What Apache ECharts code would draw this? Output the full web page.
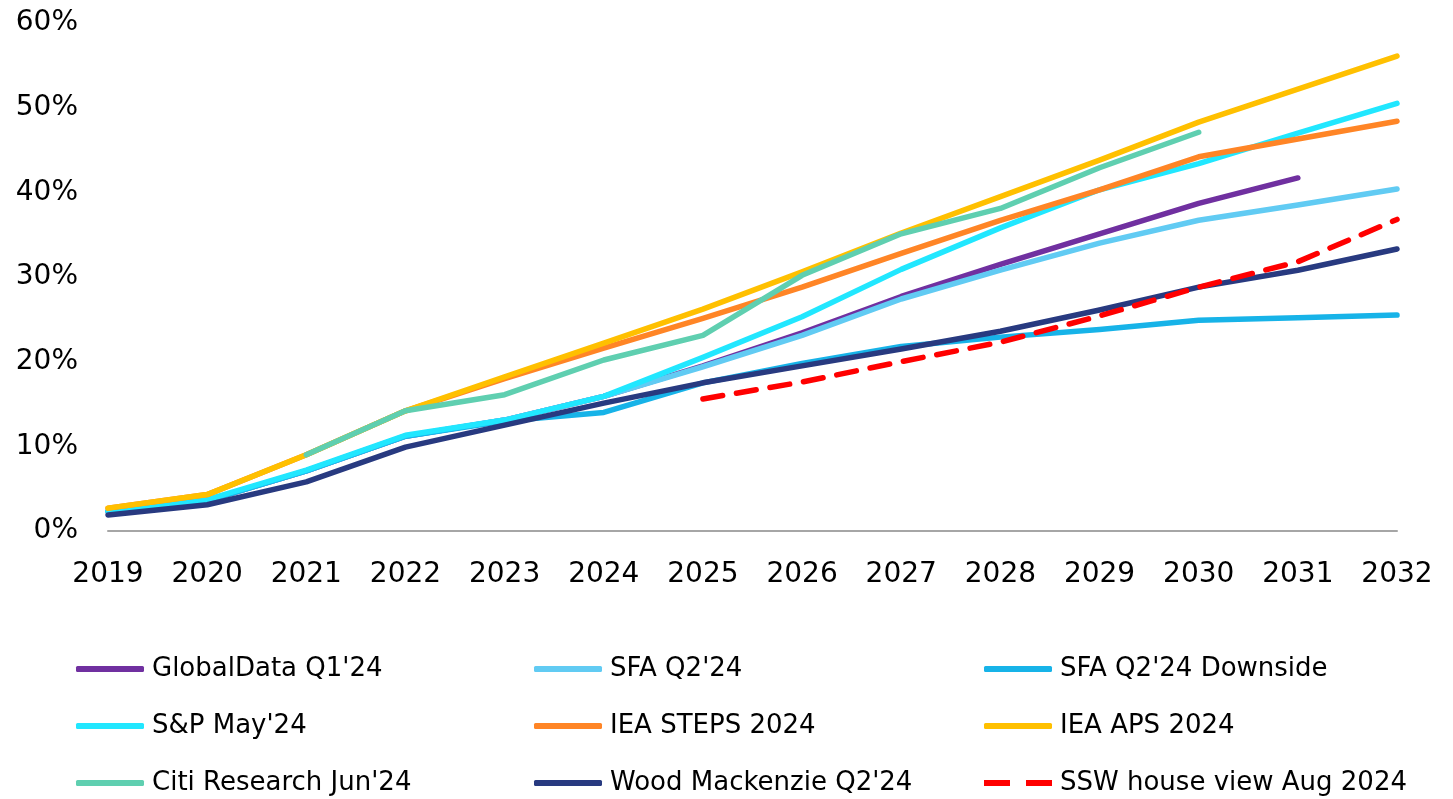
<!DOCTYPE html>
<html>
<head>
<meta charset="utf-8">
<title>chart</title>
<style>
  html, body { margin: 0; padding: 0; width: 100%; height: 100%; background: #fff; }
  #main { width: 1453px; height: 799px; }
</style>
</head>
<body>
<div id="main"></div>
<script src="https://cdn.jsdelivr.net/npm/echarts@6/dist/echarts.min.js"></script>
<script>
var years = ['2019', '2020', '2021', '2022', '2023', '2024', '2025', '2026', '2027', '2028', '2029', '2030', '2031', '2032'];

var globalData = [2.3, 3.6, 7.1, 11.2, 13.1, 15.9, 19.5, 23.4, 27.7, 31.5, 35.1, 38.7, 41.7, null];
var sfa = [2.3, 3.6, 7.1, 11.2, 13.1, 15.9, 19.4, 23.1, 27.4, 30.8, 34.0, 36.7, 38.5, 40.4];
var sfaDown = [2.3, 3.6, 7.1, 11.2, 13.0, 14.0, 17.5, 19.8, 21.8, 22.9, 23.8, 24.9, 25.2, 25.5];
var sp = [2.3, 3.7, 7.2, 11.3, 13.1, 15.9, 20.5, 25.3, 30.9, 35.8, 40.3, 43.4, 47.0, 50.5];
var ieaSteps = [2.7, 4.3, 9.0, 14.2, 18.0, 21.6, 25.1, 28.8, 32.8, 36.7, 40.3, 44.2, 46.3, 48.4];
var ieaAps = [2.7, 4.3, 9.0, 14.2, 18.2, 22.2, 26.2, 30.6, 35.2, 39.5, 43.8, 48.3, 52.2, 56.1];
var citi = [null, null, 9.0, 14.2, 16.1, 20.2, 23.1, 30.2, 35.1, 38.1, 42.9, 47.1, null, null];
var woodMac = [1.9, 3.1, 5.8, 9.9, 12.5, 15.1, 17.5, 19.5, 21.5, 23.6, 26.1, 28.8, 30.8, 33.3];
var ssw = [null, null, null, null, null, null, 15.6, 17.6, 20.0, 22.3, 25.4, 28.8, 31.8, 36.8];

var yTicks = [0, 10, 20, 30, 40, 50, 60];

var font = 'DejaVu Sans';
var dashIcon = 'path://M0,0 H26 V6 H0 Z M42,0 H68 V6 H42 Z';
var myChart = echarts.init(document.getElementById('main'));

function mk(name, data, color, dashed) {
    return {
        name: name,
        type: 'line',
        data: data,
        symbol: 'none',
        lineStyle: {
            color: color,
            width: 5.5,
            type: dashed ? [20, 14] : 'solid',
            cap: 'round',
            join: 'round'
        },
        itemStyle: { color: color }
    };
}

function legendCol(left, names) {
    return {
        orient: 'vertical',
        left: left,
        top: 649,
        height: 200,
        itemWidth: 68,
        itemHeight: 6,
        itemGap: 27,
        icon: 'roundRect',
        textStyle: {
            fontFamily: font,
            fontSize: 26,
            color: '#000',
            lineHeight: 30,
            padding: [0, 0, 0, 3]
        },
        data: names
    };
}

var option = {
    backgroundColor: '#fff',
    animation: false,
    grid: {
        left: 108,
        right: 56,
        top: 23,
        bottom: 268
    },
    legend: [
        legendCol(71, ["GlobalData Q1'24", "S&P May'24", "Citi Research Jun'24"]),
        legendCol(529, ["SFA Q2'24", 'IEA STEPS 2024', "Wood Mackenzie Q2'24"]),
        legendCol(979, ["SFA Q2'24 Downside", 'IEA APS 2024', { name: 'SSW house view Aug 2024', icon: dashIcon }])
    ],
    xAxis: {
        type: 'category',
        data: years,
        boundaryGap: false,
        axisLine: { lineStyle: { color: '#a6a6a6', width: 2 } },
        axisTick: { show: false },
        axisLabel: {
            fontFamily: font,
            fontSize: 28,
            color: '#000',
            margin: 30
        },
        splitLine: { show: false }
    },
    yAxis: {
        type: 'value',
        min: yTicks[0],
        max: yTicks[yTicks.length - 1],
        interval: 10,
        axisLine: { show: false },
        axisTick: { show: false },
        splitLine: { show: false },
        axisLabel: {
            fontFamily: font,
            fontSize: 28,
            color: '#000',
            margin: 30,
            formatter: '{value}%'
        }
    },
    series: [
        mk("GlobalData Q1'24", globalData, '#7030a0'),
        mk("SFA Q2'24", sfa, '#61cbf3'),
        mk("SFA Q2'24 Downside", sfaDown, '#17b3e8'),
        mk("S&P May'24", sp, '#21e7ff'),
        mk('IEA STEPS 2024', ieaSteps, '#ff8526'),
        mk('IEA APS 2024', ieaAps, '#ffc000'),
        mk("Citi Research Jun'24", citi, '#5fcfb0'),
        mk("Wood Mackenzie Q2'24", woodMac, '#283a80'),
        mk('SSW house view Aug 2024', ssw, '#ff0000', true)
    ]
};
myChart.setOption(option);
</script>
</body>
</html>
